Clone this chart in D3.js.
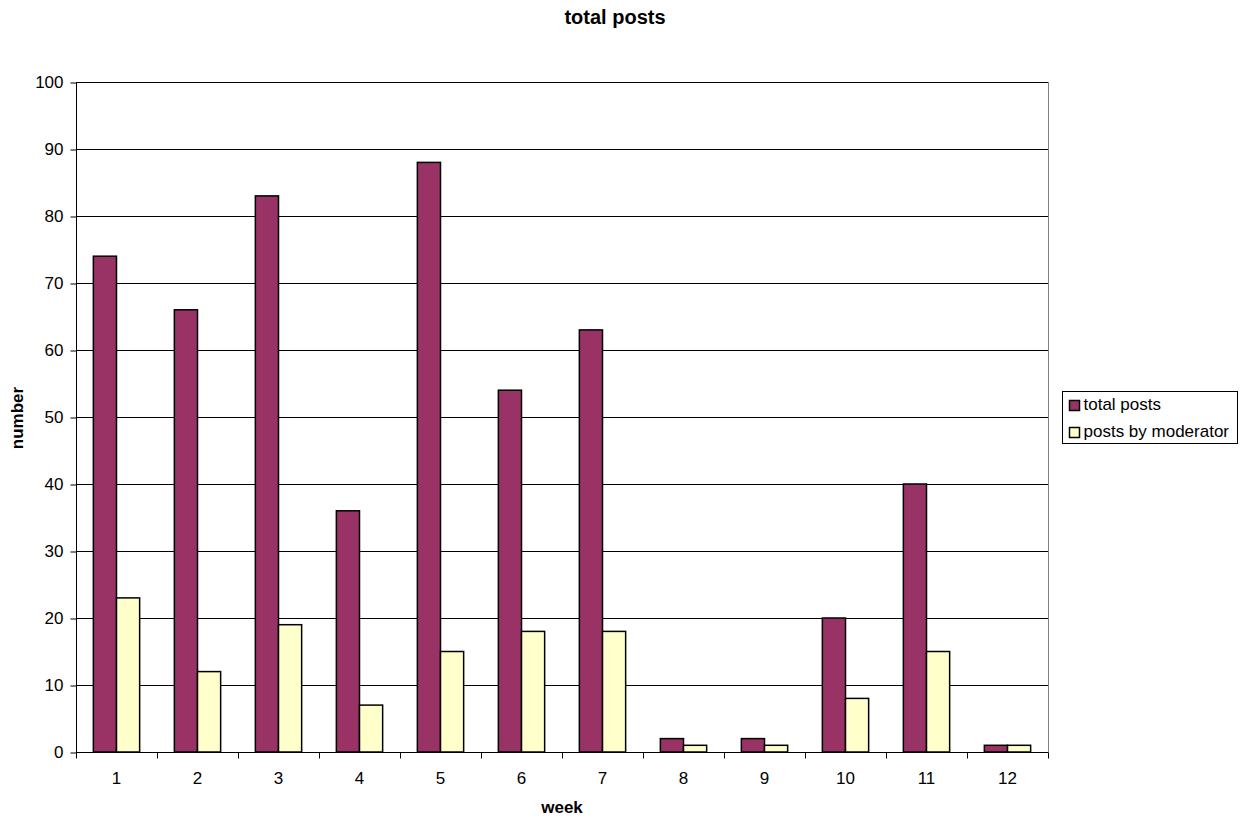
<!DOCTYPE html>
<html>
<head>
<meta charset="utf-8">
<script src="https://cdn.jsdelivr.net/npm/d3@7"></script>
<style>
  body { margin: 0; background: #fff; }
  svg { display: block; font-family: "Liberation Sans", Arial, sans-serif; }
</style>
</head>
<body>
<svg id="chart" width="1247" height="818"></svg>
<script>
// Weekly forum activity
const weeks = ["1", "2", "3", "4", "5", "6", "7", "8", "9", "10", "11", "12"];
const totalPosts = [74, 66, 83, 36, 88, 54, 63, 2, 2, 20, 40, 1];
const moderatorPosts = [23, 12, 19, 7, 15, 18, 18, 1, 1, 8, 15, 1];
const seriesNames = ["total posts", "posts by moderator"];
const seriesColors = ["#993366", "#FFFFCC"];
const yTicks = [0, 10, 20, 30, 40, 50, 60, 70, 80, 90, 100];

const svg = d3.select("#chart");
const plot = { left: 76, right: 1048, top: 82, bottom: 752 };

const x = d3.scaleBand().domain(weeks).range([plot.left, plot.right]).paddingInner(0).paddingOuter(0);
const groupWidth = x.bandwidth() * 2 / 3.5;
const xs = d3.scaleBand().domain([0, 1]).range([0, groupWidth]).padding(0);
const y = d3.scaleLinear().domain([0, 100]).range([plot.bottom, plot.top]);

// Plot area border
svg.append("rect")
  .attr("x", plot.left + 0.5).attr("y", plot.top + 0.5)
  .attr("width", plot.right - plot.left).attr("height", plot.bottom - plot.top)
  .attr("fill", "none").attr("stroke", "#808080").attr("stroke-width", 1);

// Gridlines
svg.append("g").selectAll("line").data(yTicks.filter(d => d > 0)).join("line")
  .attr("x1", plot.left).attr("x2", plot.right)
  .attr("y1", d => Math.round(y(d)) + 0.5).attr("y2", d => Math.round(y(d)) + 0.5)
  .attr("stroke", "#000").attr("stroke-width", 1);

// Bars
const series = [totalPosts, moderatorPosts];
series.forEach((vals, si) => {
  svg.append("g").selectAll("rect").data(vals).join("rect")
    .attr("x", (d, i) => x(weeks[i]) + (x.bandwidth() - groupWidth) / 2 + xs(si))
    .attr("y", d => y(d))
    .attr("width", xs.bandwidth())
    .attr("height", d => y(0) - y(d))
    .attr("fill", seriesColors[si])
    .attr("stroke", "#000").attr("stroke-width", 1.5);
});

// Y axis
const yAxis = d3.axisLeft(y).tickValues(yTicks).tickSize(6).tickPadding(7).tickFormat(d3.format("d"));
const gy = svg.append("g").attr("transform", `translate(${plot.left + 0.5},0.5)`).call(yAxis);
gy.select(".domain").attr("stroke", "#000").attr("d", `M0,${plot.top}V${plot.bottom}`);
gy.selectAll(".tick line").attr("stroke", "#000");
gy.selectAll(".tick text").attr("font-size", 17).attr("fill", "#000")
  .attr("font-family", "Liberation Sans, Arial, sans-serif");

// X axis: ticks at category boundaries
const gx = svg.append("g").attr("transform", `translate(0,${plot.bottom + 0.5})`);
gx.append("line").attr("x1", plot.left).attr("x2", plot.right).attr("stroke", "#000");
const bounds = weeks.map(w => x(w)).concat([plot.right]);
gx.selectAll("line.tk").data(bounds).join("line").attr("class", "tk")
  .attr("x1", d => Math.round(d) + 0.5).attr("x2", d => Math.round(d) + 0.5)
  .attr("y1", 0).attr("y2", 6).attr("stroke", "#000");
gx.selectAll("text").data(weeks).join("text")
  .attr("x", d => x(d) + x.bandwidth() / 2)
  .attr("y", 31)
  .attr("text-anchor", "middle")
  .attr("font-size", 17)
  .text(d => d);

// Titles
svg.append("text").attr("x", 615).attr("y", 24).attr("text-anchor", "middle")
  .attr("font-size", 20).attr("font-weight", "bold").text("total posts");
svg.append("text").attr("x", 562).attr("y", 813).attr("text-anchor", "middle")
  .attr("font-size", 17).attr("font-weight", "bold").text("week");
svg.append("text").attr("transform", "translate(23,418) rotate(-90)").attr("text-anchor", "middle")
  .attr("font-size", 17).attr("font-weight", "bold").text("number");

// Legend
const lg = svg.append("g").attr("transform", "translate(1062.5,391.5)");
lg.append("rect").attr("width", 175).attr("height", 52).attr("fill", "#fff").attr("stroke", "#000");
seriesNames.forEach((name, i) => {
  const row = lg.append("g").attr("transform", `translate(7,${17 + i * 27})`);
  row.append("rect").attr("x", 0).attr("y", -8).attr("width", 10).attr("height", 10)
    .attr("fill", seriesColors[i]).attr("stroke", "#000").attr("stroke-width", 1.5);
  row.append("text").attr("x", 14).attr("y", 1).attr("font-size", 17).text(name);
});
</script>
</body>
</html>
